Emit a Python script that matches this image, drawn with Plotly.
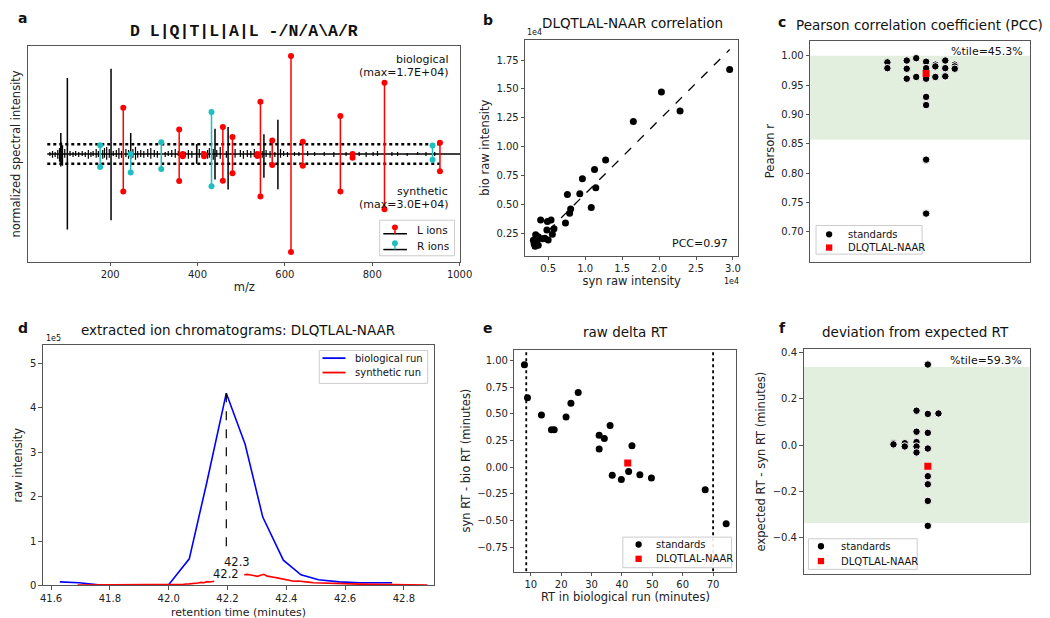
import plotly.graph_objects as go

# ---------------- panel a : mirrored spectrum ----------------
noise_mz = [62, 68, 74, 80, 84, 88, 91, 96, 108, 115,
            121, 128, 136, 143, 150, 156, 161, 168, 173, 183,
            187, 192, 198, 207, 214, 220, 226, 236, 242, 252,
            258, 263, 270, 277, 286, 293, 301, 308, 326, 333,
            341, 349, 356, 372, 379, 387, 398, 404, 411, 423,
            427, 436, 444, 452, 466, 486, 498, 505, 514, 522,
            530, 548, 557, 566, 577, 590, 597, 606, 622, 632,
            652, 668, 690, 712, 740, 770, 786, 802, 812, 845,
            858, 880, 904, 923, 943]
noise_bio = [0.02, 0.03, 0.02, 0.04, 0.06, 0.12, 0.09, 0.05, 0.03, 0.02,
             0.03, 0.02, 0.03, 0.02, 0.04, 0.02, 0.03, 0.05, 0.03, 0.04,
             0.06, 0.07, 0.05, 0.03, 0.04, 0.06, 0.03, 0.05, 0.04, 0.05,
             0.07, 0.03, 0.04, 0.03, 0.05, 0.06, 0.04, 0.03, 0.02, 0.03,
             0.04, 0.05, 0.03, 0.02, 0.04, 0.03, 0.10, 0.05, 0.03, 0.04,
             0.06, 0.05, 0.04, 0.07, 0.03, 0.05, 0.04, 0.03, 0.04, 0.03,
             0.05, 0.03, 0.04, 0.03, 0.02, 0.05, 0.03, 0.02, 0.02, 0.02,
             0.03, 0.02, 0.02, 0.02, 0.02, 0.02, 0.02, 0.02, 0.03, 0.02,
             0.02, 0.01, 0.02, 0.02, 0.02]
noise_syn = [0.02, 0.04, 0.03, 0.05, 0.08, 0.10, 0.12, 0.04, 0.02, 0.03,
             0.02, 0.03, 0.02, 0.03, 0.05, 0.03, 0.02, 0.04, 0.03, 0.05,
             0.04, 0.06, 0.04, 0.02, 0.03, 0.05, 0.04, 0.03, 0.05, 0.04,
             0.06, 0.04, 0.03, 0.04, 0.03, 0.05, 0.03, 0.04, 0.03, 0.02,
             0.03, 0.04, 0.02, 0.03, 0.05, 0.04, 0.08, 0.04, 0.03, 0.05,
             0.04, 0.06, 0.03, 0.05, 0.04, 0.04, 0.03, 0.05, 0.03, 0.04,
             0.03, 0.04, 0.03, 0.04, 0.03, 0.04, 0.02, 0.03, 0.02, 0.02,
             0.02, 0.02, 0.02, 0.03, 0.02, 0.02, 0.03, 0.02, 0.02, 0.02,
             0.02, 0.02, 0.01, 0.02, 0.02]

big_mz = [87, 102, 202, 247, 398, 440, 470, 552, 584]
big_bio = [0.214, 0.776, 0.87, 0.214, 0.10, 0.258, 0.275, 0.20, 0.348]
big_syn = [0.127, 0.772, 0.678, 0.05, 0.10, 0.26, 0.364, 0.244, 0.36]

L_mz = [230, 358, 366, 415, 458, 480, 537, 544, 571, 614, 641, 727, 755, 828, 955]
L_bio = [0.472, 0.25, 0.0, 0.0, 0.275, 0.174, 0.0, 0.532, 0.137, 1.0, 0.124, 0.388, 0.0, 0.726, 0.114]
L_syn = [0.384, 0.277, 0.023, 0.023, 0.274, 0.197, 0.02, 0.434, 0.113, 1.0, 0.12, 0.384, 0.04, 0.565, 0.177]

R_mz = [177, 247, 317, 432, 938]
R_bio = [0.09, 0.0, 0.12, 0.428, 0.087]
R_syn = [0.133, 0.19, 0.153, 0.33, 0.06]

mz_span = [56, 955]
noise_level = 0.1

# ---------------- panel b : intensity correlation ----------------
syn_int = [29550, 20320, 22840, 16520, 12770, 11270, 9630, 11440, 9280, 7600,
           10830, 8040, 7900, 7340, 3980, 4900, 5390, 5790, 4830, 5570,
           3310, 4240, 5000, 3660, 3100, 3230, 3660, 3000, 3450, 4550]
bio_int = [16670, 14730, 13080, 12170, 8830, 8000, 7200, 6430, 5900, 5840,
           4720, 4580, 4210, 3380, 3640, 3500, 3640, 2870, 2760, 2390,
           2360, 2010, 1900, 2180, 1580, 1360, 1440, 1880, 1740, 2060]
fit_x = [3300, 29550]
fit_y = [1600, 18410]

# ---------------- panel c : PCC swarm ----------------
pcc_x = [-0.149, -0.149, -0.061, -0.061, -0.061, -0.018, -0.018,
         0.027, 0.027, 0.027, 0.027, 0.027, 0.027, 0.027,
         0.069, 0.069, 0.069, 0.114, 0.114, 0.114, 0.157, 0.157, 0.157]
pcc_y = [0.989, 0.979, 0.992, 0.978, 0.961, 0.996, 0.964,
         0.990, 0.979, 0.961, 0.930, 0.916, 0.823, 0.731,
         0.985, 0.982, 0.964, 0.992, 0.979, 0.965, 0.985, 0.982, 0.978]
pcc_query = [0.027, 0.970]
pcc_band = [0.857, 1.0]

# ---------------- panel d : chromatograms ----------------
bio_rt = [41.63, 41.695, 41.76, 41.825, 41.89, 41.955, 42.0, 42.07, 42.13, 42.196,
          42.26, 42.32, 42.39, 42.45, 42.51, 42.58, 42.65, 42.72, 42.76]
bio_xic = [8000, 6000, 1500, 1000, 1000, 1000, 1500, 60000, 233000, 433000,
           318000, 154000, 57000, 24000, 13000, 8000, 6000, 6000, 6000]
syn_rt1 = [41.69, 41.75, 41.8, 41.85, 41.9, 41.95, 41.98, 42.02, 42.05, 42.07,
           42.09, 42.1, 42.11, 42.12, 42.13, 42.14, 42.155]
syn_xic1 = [1000, 1200, 900, 1100, 1000, 1200, 2500, 2000, 2800, 3500,
            4000, 5500, 7000, 6200, 8500, 7800, 9500]
syn_rt2 = [42.257, 42.268, 42.279, 42.29, 42.302, 42.313, 42.324, 42.335, 42.346, 42.357,
           42.369, 42.38, 42.391, 42.408, 42.425, 42.44, 42.458, 42.475, 42.492, 42.51,
           42.536, 42.56, 42.581, 42.61, 42.648, 42.7, 42.75, 42.8, 42.88]
syn_xic2 = [24000, 25000, 23500, 22000, 20500, 23000, 25000, 21000, 19000, 18500,
            17000, 15500, 13000, 11500, 9500, 10000, 8000, 7500, 6000, 5500,
            4400, 4200, 3700, 3300, 3000, 2500, 2000, 1500, 1000]
rt_labels = ["42.3", "42.2"]
rt_label_pos = [[42.232, 52000], [42.196, 26000]]
apex_drop = 73000

# ---------------- panel e : raw delta RT ----------------
std_rt = [7.9, 8.9, 13.5, 16.8, 17.7, 21.6, 23.2, 25.6, 32.5, 32.5,
          34.2, 36.1, 36.8, 39.8, 42.2, 43.3, 45.9, 49.7, 67.4, 74.3]
std_drt = [0.96, 0.65, 0.49, 0.35, 0.35, 0.47, 0.60, 0.70, 0.30, 0.17,
           0.27, 0.39, -0.075, -0.115, -0.04, 0.20, -0.07, -0.10, -0.21, -0.53]
query_rt = [41.9]
query_drt = [0.04]
rt_window = [8.5, 70]

# ---------------- panel f : deviation from expected RT ----------------
dev_x = [0.05, 0.0, 0.05, 0.097, 0.0, 0.05, -0.102, -0.102, -0.052, -0.052,
         0.0, 0.0, 0.0, 0.05, 0.05, 0.05, 0.05, 0.05]
dev_y = [0.349, 0.149, 0.135, 0.137, 0.058, 0.053, 0.008, 0.003, 0.008, -0.006,
         0.013, -0.006, -0.032, -0.015, -0.135, -0.170, -0.242, -0.350]
dev_query = [0.05, -0.092]
dev_band = [-0.338, 0.338]

FONT = "DejaVu Sans"
AX = "#555555"
GREEN = "#e2efdf"
CYAN = "#1fbfbf"
W, H = 1050, 618


def stems(mz, top, bottom):
    xs, ys = [], []
    for m, t, b in zip(mz, top, bottom):
        xs += [m, m, None]
        ys += [t, -b, None]
    return xs, ys


def axis(domain, rng, anchor, **kw):
    d = dict(domain=domain, range=rng, anchor=anchor, showline=True, mirror=True,
             linecolor=AX, linewidth=1, ticks="outside", ticklen=3.5, tickcolor=AX,
             showgrid=False, zeroline=False, tickfont=dict(size=10, color="#222"),
             title_font=dict(size=11.5, color="#222"))
    d.update(kw)
    return d


fig = go.Figure()

# panel a
nx, ny = stems(noise_mz, noise_bio, noise_syn)
fig.add_trace(go.Scatter(x=nx, y=ny, mode="lines", line=dict(color="black", width=1.2),
                         xaxis="x", yaxis="y"))
fig.add_trace(go.Scatter(x=[mz_span[0], 1010], y=[0, 0], mode="lines",
                         line=dict(color="black", width=1.5), xaxis="x", yaxis="y"))
for lv in [noise_level, -noise_level]:
    fig.add_trace(go.Scatter(x=mz_span, y=[lv, lv], mode="lines",
                             line=dict(color="black", width=2.5, dash="dot"), xaxis="x", yaxis="y"))
bx, by = stems(big_mz, big_bio, big_syn)
fig.add_trace(go.Scatter(x=bx, y=by, mode="lines", line=dict(color="black", width=1.5),
                         xaxis="x", yaxis="y"))
rx, ry = stems(R_mz, R_bio, R_syn)
fig.add_trace(go.Scatter(x=rx, y=ry, mode="lines+markers", line=dict(color=CYAN, width=1.5),
                         marker=dict(size=6, color=CYAN), xaxis="x", yaxis="y"))
lx, ly = stems(L_mz, L_bio, L_syn)
fig.add_trace(go.Scatter(x=lx, y=ly, mode="lines+markers", line=dict(color="red", width=1.5),
                         marker=dict(size=6, color="red"), xaxis="x", yaxis="y"))

# panel b
fig.add_trace(go.Scatter(x=fit_x, y=fit_y, mode="lines", line=dict(color="black", width=1.3, dash="dash"),
                         xaxis="x2", yaxis="y2"))
fig.add_trace(go.Scatter(x=syn_int, y=bio_int, mode="markers", marker=dict(size=7, color="black"),
                         xaxis="x2", yaxis="y2"))

# panel c
fig.add_trace(go.Scatter(x=pcc_x, y=pcc_y, mode="markers",
                         marker=dict(size=7.5, color="black", line=dict(color="white", width=1)),
                         xaxis="x3", yaxis="y3"))
fig.add_trace(go.Scatter(x=[pcc_query[0]], y=[pcc_query[1]], mode="markers",
                         marker=dict(size=7, color="red", symbol="square"), xaxis="x3", yaxis="y3"))

# panel d
fig.add_trace(go.Scatter(x=bio_rt, y=bio_xic, mode="lines", line=dict(color="blue", width=1.6),
                         xaxis="x4", yaxis="y4"))
fig.add_trace(go.Scatter(x=syn_rt1, y=syn_xic1, mode="lines", line=dict(color="red", width=1.6),
                         xaxis="x4", yaxis="y4"))
fig.add_trace(go.Scatter(x=syn_rt2, y=syn_xic2, mode="lines", line=dict(color="red", width=1.6),
                         xaxis="x4", yaxis="y4"))
apex = bio_xic.index(max(bio_xic))
fig.add_trace(go.Scatter(x=[bio_rt[apex], bio_rt[apex]], y=[bio_xic[apex], apex_drop], mode="lines",
                         line=dict(color="black", width=1.2, dash="dash"), xaxis="x4", yaxis="y4"))

# panel e
for xv in rt_window:
    fig.add_trace(go.Scatter(x=[xv, xv], y=[-1.2, 1.2], mode="lines",
                             line=dict(color="black", width=1.8, dash="dot"), xaxis="x5", yaxis="y5"))
fig.add_trace(go.Scatter(x=std_rt, y=std_drt, mode="markers", marker=dict(size=7, color="black"),
                         xaxis="x5", yaxis="y5"))
fig.add_trace(go.Scatter(x=query_rt, y=query_drt, mode="markers",
                         marker=dict(size=7, color="red", symbol="square"), xaxis="x5", yaxis="y5"))

# panel f
fig.add_trace(go.Scatter(x=dev_x, y=dev_y, mode="markers",
                         marker=dict(size=7.5, color="black", line=dict(color="white", width=1)),
                         xaxis="x6", yaxis="y6"))
fig.add_trace(go.Scatter(x=[dev_query[0]], y=[dev_query[1]], mode="markers",
                         marker=dict(size=7, color="red", symbol="square"), xaxis="x6", yaxis="y6"))

shapes = [
    dict(type="rect", xref="x3 domain", yref="y3", x0=0, x1=1, y0=pcc_band[0], y1=pcc_band[1],
         fillcolor=GREEN, line=dict(width=0), layer="below"),
    dict(type="rect", xref="x6 domain", yref="y6", x0=0, x1=1, y0=dev_band[0], y1=dev_band[1],
         fillcolor=GREEN, line=dict(width=0), layer="below"),
]


def fx(xp):
    return xp / W


def fy(yp):
    return 1 - yp / H


def box(x0, y0, x1, y1):
    shapes.append(dict(type="rect", xref="paper", yref="paper", x0=fx(x0), x1=fx(x1),
                       y0=fy(y1), y1=fy(y0), fillcolor="rgba(255,255,255,0.9)",
                       line=dict(color="#cccccc", width=1)))


def seg(x0, y0, x1, y1, color, width=1.5):
    shapes.append(dict(type="line", xref="paper", yref="paper", x0=fx(x0), x1=fx(x1),
                       y0=fy(y0), y1=fy(y1), line=dict(color=color, width=width)))


def dot(cx, cy, r, color, kind="circle"):
    shapes.append(dict(type=kind, xref="paper", yref="paper", x0=fx(cx - r), x1=fx(cx + r),
                       y0=fy(cy + r), y1=fy(cy - r), fillcolor=color, line=dict(width=0)))


def txt(x, y, s, size=11, xanchor="center", yanchor="middle", xref="paper", yref="paper", **kw):
    return dict(x=x, y=y, text=s, showarrow=False, xref=xref, yref=yref, xanchor=xanchor,
                yanchor=yanchor, font=dict(family=kw.pop("family", FONT), size=size,
                                           color=kw.pop("color", "#111")), **kw)


def px(xp, yp, s, size=11, **kw):
    return txt(fx(xp), fy(yp), s, size=size, **kw)


annotations = [
    px(5, 8, "<b>a</b>", 14, xanchor="left"),
    px(477, 10, "<b>b</b>", 14, xanchor="left"),
    px(776, 12, "<b>c</b>", 14, xanchor="left"),
    px(5, 322, "<b>d</b>", 14, xanchor="left"),
    px(477, 322, "<b>e</b>", 14, xanchor="left"),
    px(777, 322, "<b>f</b>", 14, xanchor="left"),
    px(236, 22, r"<b>D L|Q|T|L|A|L -/N/A\A/R</b>", 16.5, family="Liberation Mono"),
    px(445, 50, "biological", 11, xanchor="right"),
    px(445, 63, "(max=1.7E+04)", 11, xanchor="right"),
    px(445, 184, "synthetic", 11, xanchor="right"),
    px(445, 197, "(max=3.0E+04)", 11, xanchor="right"),
    px(630, 13, "DLQTLAL-NAAR correlation", 13.5),
    px(521, 23, "1e4", 8, xanchor="left"),
    px(741, 275, "1e4", 8, xanchor="right"),
    px(729, 237, "PCC=0.97", 11, xanchor="right"),
    px(922, 15, "Pearson correlation coefficient (PCC)", 13.5),
    px(1029, 42, "%tile=45.3%", 11, xanchor="right"),
    px(230, 324, "extracted ion chromatograms: DLQTLAL-NAAR", 13.5),
    px(33, 333, "1e5", 8, xanchor="left"),
    px(230.6, 610, "retention time (minutes)", 11, color="#222"),
    px(623, 326, "raw delta RT", 13.5),
    px(918, 326, "deviation from expected RT", 13.5),
    px(1028, 355, "%tile=59.3%", 11, xanchor="right"),
]
for lab, (lx_, ly_) in zip(rt_labels, rt_label_pos):
    annotations.append(txt(lx_, ly_, lab, 11.5, xref="x4", yref="y4"))

# legend a (stem symbols)
box(374, 213, 450, 249)
for yb, col, lab in [(226.7, "red", "L ions"), (242.7, CYAN, "R ions")]:
    seg(377.7, yb, 401.7, yb, "black", 1.5)
    seg(389.5, yb, 389.5, yb - 6.5, col, 1.5)
    dot(389.5, yb - 6.5, 3, col)
    annotations.append(px(410, yb - 4, lab, 10.5, xanchor="left"))

# legend c / e / f (markers)
for (bx0, by0, bx1, by1, sx, sy1, sy2, tx) in [
        (816.7, 218.3, 924.3, 247.3, 830, 227.3, 240.7, 847),
        (620.7, 534, 731, 565, 636.7, 541.5, 556, 652.5),
        (809, 535.7, 919.3, 566.7, 821.7, 543.3, 558.3, 840)]:
    box(bx0, by0, bx1, by1)
    dot(sx, sy1, 3.2, "black")
    dot(sx, sy2, 3.2, "red", "rect")
    annotations.append(px(tx, sy1, "standards", 10, xanchor="left"))
    annotations.append(px(tx, sy2, "DLQTLAL-NAAR", 10, xanchor="left"))

# legend d (lines)
box(312.7, 345, 422.7, 378.3)
for yl, col, lab in [(352.7, "blue", "biological run"), (367.3, "red", "synthetic run")]:
    seg(316, yl, 339.3, yl, col, 1.8)
    annotations.append(px(346.7, yl, lab, 10, xanchor="left"))


def dom_x(a, b):
    return [a / W, b / W]


def dom_y(top, bottom):
    return [1 - bottom / H, 1 - top / H]


fig.update_traces(showlegend=False)
fig.update_layout(
    width=W, height=H, margin=dict(l=0, r=0, t=0, b=0),
    paper_bgcolor="white", plot_bgcolor="white",
    font=dict(family=FONT, color="#111"), showlegend=False,
    xaxis=axis(dom_x(17.3, 456), [12, 1002], "y", tickvals=[200, 400, 600, 800, 1000],
               title=dict(text="m/z", standoff=3)),
    yaxis=axis(dom_y(36.7, 255), [-1.1, 1.1], "x", showticklabels=False, ticks="",
               title=dict(text="normalized spectral intensity", standoff=4)),
    xaxis2=axis(dom_x(521.7, 737.7), [1900, 30700], "y2",
                tickvals=[5000, 10000, 15000, 20000, 25000, 30000],
                ticktext=["0.5", "1.0", "1.5", "2.0", "2.5", "3.0"],
                title=dict(text="syn raw intensity", standoff=3)),
    yaxis2=axis(dom_y(30, 249), [530, 19270], "x2",
                tickvals=[2500, 5000, 7500, 10000, 12500, 15000, 17500],
                ticktext=["0.25", "0.50", "0.75", "1.00", "1.25", "1.50", "1.75"],
                title=dict(text="bio raw intensity", standoff=4)),
    xaxis3=axis(dom_x(810.7, 1034), [-0.5, 0.5], "y3", showticklabels=False, ticks=""),
    yaxis3=axis(dom_y(31, 255), [0.649, 1.026], "x3",
                tickvals=[0.70, 0.75, 0.80, 0.85, 0.90, 0.95, 1.00], tickformat=".2f",
                title=dict(text="Pearson r", standoff=4)),
    xaxis4=axis(dom_x(32.3, 429), [41.572, 42.902], "y4",
                tickvals=[41.6, 41.8, 42.0, 42.2, 42.4, 42.6, 42.8], tickformat=".1f"),
    yaxis4=axis(dom_y(339.3, 583), [0, 541700], "x4",
                tickvals=[0, 100000, 200000, 300000, 400000, 500000],
                ticktext=["0", "1", "2", "3", "4", "5"],
                title=dict(text="raw intensity", standoff=4)),
    xaxis5=axis(dom_x(510.7, 736), [4.6, 77.7], "y5", tickvals=[10, 20, 30, 40, 50, 60, 70],
                title=dict(text="RT in biological run (minutes)", standoff=3)),
    yaxis5=axis(dom_y(344, 569), [-0.978, 1.102], "x5",
                tickvals=[-0.75, -0.5, -0.25, 0, 0.25, 0.5, 0.75, 1.0],
                ticktext=["\u22120.75", "\u22120.50", "\u22120.25", "0.00", "0.25", "0.50", "0.75", "1.00"],
                title=dict(text="syn RT - bio RT (minutes)", standoff=4)),
    xaxis6=axis(dom_x(804, 1033.3), [-0.5, 0.5], "y6", showticklabels=False, ticks=""),
    yaxis6=axis(dom_y(343.3, 571.7), [-0.56, 0.417], "x6",
                tickvals=[-0.4, -0.2, 0, 0.2, 0.4],
                ticktext=["\u22120.4", "\u22120.2", "0.0", "0.2", "0.4"],
                title=dict(text="expected RT - syn RT (minutes)", standoff=4)),
    shapes=shapes,
    annotations=annotations,
)

fig.write_html("out.html")
